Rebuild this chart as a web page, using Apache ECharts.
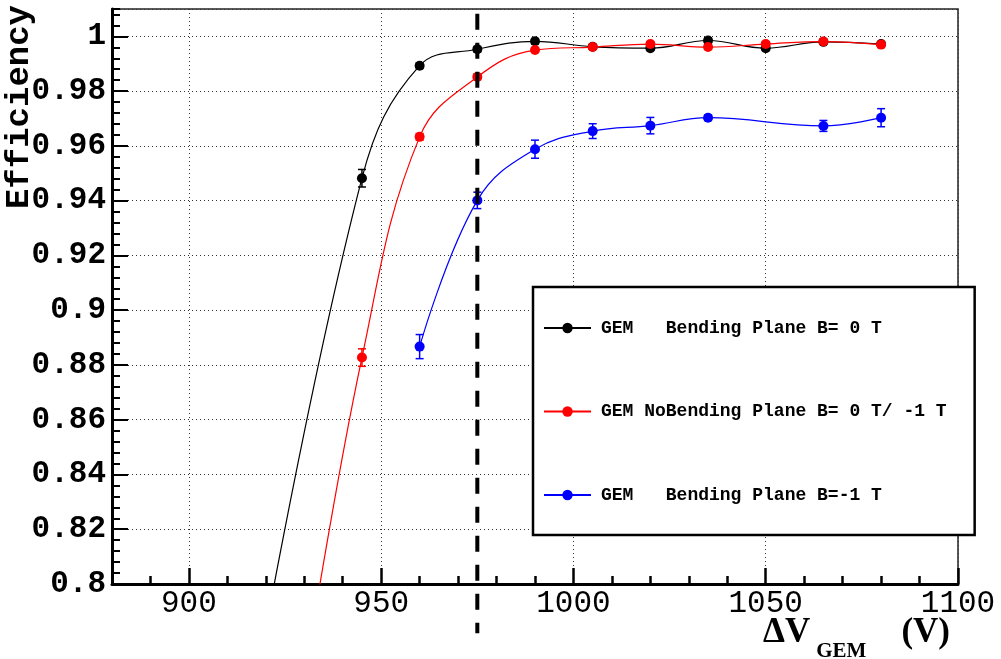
<!DOCTYPE html>
<html><head><meta charset="utf-8">
<script src="https://cdn.jsdelivr.net/npm/echarts@6/dist/echarts.min.js"></script>
<style>html,body{margin:0;padding:0;background:#fff}#c{width:1001px;height:659px}</style>
</head><body><div id="c"></div>
<script>
// ---- data ----
const seriesNames = ['GEM   Bending Plane B= 0 T', 'GEM NoBending Plane B= 0 T/ -1 T', 'GEM   Bending Plane B=-1 T'];
const seriesColors = ['#000000', '#ff0000', '#0000ff'];

const voltBlack = [915, 945, 960, 975, 990, 1005, 1020, 1035, 1050, 1065, 1080];
const effBlack  = [0.745, 0.9482, 0.9893, 0.9953, 0.9982, 0.9962, 0.9957, 0.9985, 0.9957, 0.9980, 0.9972];
const errBlack  = [0.003, 0.0032, 0.001, 0.001, 0.001, 0.0008, 0.0008, 0.001, 0.0008, 0.0008, 0.0008];

const voltRed = [930, 945, 960, 975, 990, 1005, 1020, 1035, 1050, 1065, 1080];
const effRed  = [0.765, 0.8827, 0.9633, 0.9852, 0.9950, 0.9961, 0.9972, 0.9961, 0.9972, 0.9981, 0.9970];
const errRed  = [0.003, 0.0032, 0.0012, 0.001, 0.0008, 0.0008, 0.0008, 0.0008, 0.0008, 0.0008, 0.0008];

const voltBlue = [960, 975, 990, 1005, 1020, 1035, 1065, 1080];
const effBlue  = [0.8867, 0.9401, 0.9588, 0.9654, 0.9674, 0.9703, 0.9673, 0.9703];
const errBlue  = [0.0044, 0.003, 0.0033, 0.0027, 0.003, 0.001, 0.002, 0.0033];

const xMajorTicks = [900, 950, 1000, 1050, 1100];
const xRange = [880, 1100];
const yRange = [0.8, 1.01];
const workingPointVolt = 975;
const workingPointSpan = [0.782, 1.0083];

// ---- build ----
const sets = [
  [voltBlack, effBlack, errBlack],
  [voltRed, effRed, errRed],
  [voltBlue, effBlue, errBlue]
];

const lineSeries = sets.map((s, i) => ({
  name: seriesNames[i],
  type: 'line',
  xAxisIndex: 0, yAxisIndex: 0,
  data: s[0].map((v, k) => [v, s[1][k]]),
  smooth: 0.4,
  symbol: 'circle',
  symbolSize: 10,
  showAllSymbol: true,
  clip: true,
  color: seriesColors[i],
  lineStyle: { color: seriesColors[i], width: 1.2 },
  itemStyle: { color: seriesColors[i] },
  z: 3 + i
}));

const errSeries = sets.map((s, i) => ({
  name: 'err' + i,
  type: 'custom',
  xAxisIndex: 0, yAxisIndex: 0,
  clip: true,
  z: 3 + i,
  data: s[0].map((v, k) => [v, s[1][k], s[2][k]]),
  encode: { x: 0, y: 1 },
  renderItem: function (params, api) {
    const x = api.value(0), y = api.value(1), e = api.value(2);
    const lo = api.coord([x, y - e]), hi = api.coord([x, y + e]);
    const w = 4;
    const st = { stroke: seriesColors[i], lineWidth: 1.5 };
    return { type: 'group', children: [
      { type: 'line', shape: { x1: lo[0], y1: lo[1], x2: hi[0], y2: hi[1] }, style: st },
      { type: 'line', shape: { x1: lo[0] - w, y1: lo[1], x2: lo[0] + w, y2: lo[1] }, style: st },
      { type: 'line', shape: { x1: hi[0] - w, y1: hi[1], x2: hi[0] + w, y2: hi[1] }, style: st }
    ]};
  }
}));

const refSeries = {
  name: 'ref', type: 'custom', xAxisIndex: 0, yAxisIndex: 0, clip: false, z: 20,
  data: [[workingPointVolt, workingPointSpan[0], workingPointSpan[1]]],
  renderItem: function (params, api) {
    const x = api.value(0);
    const a = api.coord([x, api.value(2)]), b = api.coord([x, api.value(1)]);
    return { type: 'line', shape: { x1: a[0], y1: a[1], x2: b[0], y2: b[1] },
      style: { stroke: '#000', lineWidth: 4, lineDash: [16, 13] } };
  }
};

const monoFont = 'Liberation Mono';
const gridDots = { show: true, lineStyle: { color: '#333', width: 1, type: [1, 3] } };

const option = {
  animation: false,
  backgroundColor: '#fff',
  grid: { left: 112, right: 43, top: 9, bottom: 75, show: true, borderColor: '#222', borderWidth: 1.5, outerBoundsMode: 'none', containLabel: false },
  legend: {
    data: seriesNames,
    orient: 'vertical',
    left: 533, top: 287,
    padding: [32, 28, 31, 10],
    itemGap: 65.5,
    itemWidth: 47, itemHeight: 13,
    borderColor: '#000', borderWidth: 2.5,
    backgroundColor: '#fff',
    selectedMode: false,
    textStyle: { fontFamily: monoFont, fontWeight: 'bold', fontSize: 18, color: '#000', padding: [0, 0, 0, 5] }
  },
  xAxis: [
    {
      type: 'value', min: xRange[0], max: xRange[1], position: 'bottom',
      axisLine: { show: true, lineStyle: { color: '#000', width: 3 } },
      axisTick: { show: true, inside: true, length: 16, customValues: xMajorTicks, lineStyle: { color: '#000', width: 2.5 } },
      axisLabel: { show: true, customValues: xMajorTicks, margin: 4, fontFamily: monoFont, fontSize: 31, color: '#000',
        formatter: function (v) { return String(v); } },
      splitLine: gridDots,
      name: '{d|ΔV}{s|GEM}{v|(V)}',
      nameLocation: 'end', nameGap: -8, nameMoveOverlap: false,
      nameTextStyle: {
        align: 'right', verticalAlign: 'top', padding: [31, 0, 0, 0],
        rich: {
          d: { fontFamily: 'Liberation Serif', fontWeight: 'bold', fontSize: 35, lineHeight: 36, verticalAlign: 'top', color: '#000' },
          s: { fontFamily: 'Liberation Serif', fontWeight: 'bold', fontSize: 21, lineHeight: 21, padding: [26, 0, 0, 6], verticalAlign: 'top', color: '#000' },
          v: { fontFamily: 'Liberation Serif', fontWeight: 'bold', fontSize: 35, lineHeight: 36, padding: [0, 0, 0, 35], verticalAlign: 'top', color: '#000' }
        }
      }
    },
    {
      type: 'value', min: xRange[0], max: xRange[1], interval: 10, position: 'bottom',
      axisLine: { show: false },
      axisTick: { show: true, inside: true, length: 8, lineStyle: { color: '#000', width: 2.5 } },
      axisLabel: { show: false },
      splitLine: { show: false }
    }
  ],
  yAxis: [
    {
      type: 'value', min: yRange[0], max: yRange[1], interval: 0.02, position: 'left',
      axisLine: { show: true, lineStyle: { color: '#000', width: 3 } },
      axisTick: { show: true, inside: true, length: 16, lineStyle: { color: '#000', width: 2 } },
      axisLabel: { show: true, showMaxLabel: false, margin: 6, fontFamily: monoFont, fontWeight: 'bold', fontSize: 31, color: '#000' },
      splitLine: gridDots,
      name: 'Efficiency',
      nameLocation: 'end', nameGap: 4, nameRotate: 90, nameMoveOverlap: false,
      nameTextStyle: { fontFamily: monoFont, fontWeight: 'bold', fontSize: 34, color: '#000', align: 'right', verticalAlign: 'bottom', padding: [0, 0, 76, 0] }
    },
    {
      type: 'value', min: yRange[0], max: yRange[1], interval: 0.004, position: 'left',
      axisLine: { show: false },
      axisTick: { show: true, inside: true, length: 8, lineStyle: { color: '#000', width: 2 } },
      axisLabel: { show: false },
      splitLine: { show: false }
    }
  ],
  series: [...lineSeries, ...errSeries, refSeries]
};

const chart = echarts.init(document.getElementById('c'), null, { renderer: 'canvas' });
chart.setOption(option);
</script></body></html>
